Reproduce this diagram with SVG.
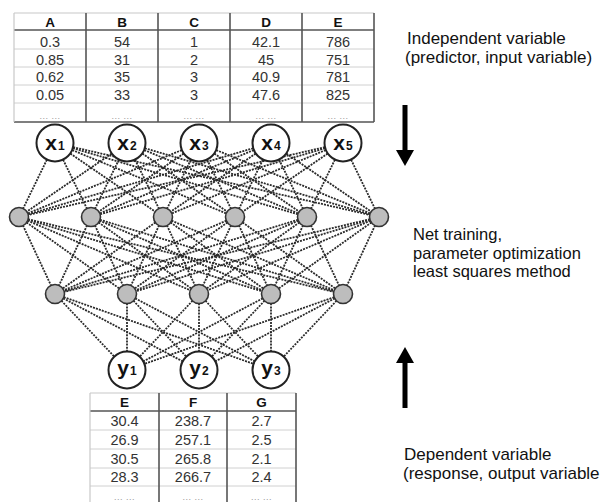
<svg xmlns="http://www.w3.org/2000/svg" width="601" height="502" viewBox="0 0 601 502">
<style>
text{font-family:"Liberation Sans",Arial,sans-serif;fill:#111}
.hd{font-weight:bold;font-size:13.5px;text-anchor:middle}
.v{font-size:14.5px;text-anchor:middle;fill:#333}
.dt{font-size:9px;text-anchor:middle;fill:#999;letter-spacing:0.5px}
.lbl{font-size:17px}
.lbs{font-size:16.5px}
.rl{stroke:#d0d0d0;stroke-width:1}
.dk{stroke:#555;stroke-width:1.6}
.lt{stroke:#c8c8c8;stroke-width:1.2}
.cn line{stroke:#2a2a2a;stroke-width:1.8;stroke-dasharray:2 1.1}
.io{fill:#fff;stroke:#222;stroke-width:2}
.hn{fill:#bdbdbd;stroke:#333;stroke-width:1.6}
.nx{font-weight:bold;font-size:21px;text-anchor:middle}
</style>
<rect width="601" height="502" fill="#fff"/>

<g id="input-table">
<line class="lt" x1="14" y1="13" x2="374" y2="13"/>
<line class="dk" x1="14" y1="30" x2="374" y2="30"/>
<line class="rl" x1="14" y1="49" x2="374" y2="49"/>
<line class="rl" x1="14" y1="67" x2="374" y2="67"/>
<line class="rl" x1="14" y1="85" x2="374" y2="85"/>
<line class="rl" x1="14" y1="103" x2="374" y2="103"/>
<line class="dk" x1="14" y1="122" x2="374" y2="122"/>
<line class="lt" x1="14" y1="13" x2="14" y2="122"/>
<line class="dk" x1="86" y1="13" x2="86" y2="122"/>
<line class="dk" x1="158" y1="13" x2="158" y2="122"/>
<line class="dk" x1="230" y1="13" x2="230" y2="122"/>
<line class="dk" x1="302" y1="13" x2="302" y2="122"/>
<line class="dk" x1="374" y1="13" x2="374" y2="122"/>
<text class="hd" x="50" y="27">A</text><text class="hd" x="122" y="27">B</text><text class="hd" x="194" y="27">C</text><text class="hd" x="266" y="27">D</text><text class="hd" x="338" y="27">E</text>
<text class="v" x="50" y="47">0.3</text><text class="v" x="122" y="47">54</text><text class="v" x="194" y="47">1</text><text class="v" x="266" y="47">42.1</text><text class="v" x="338" y="47">786</text>
<text class="v" x="50" y="64.5">0.85</text><text class="v" x="122" y="64.5">31</text><text class="v" x="194" y="64.5">2</text><text class="v" x="266" y="64.5">45</text><text class="v" x="338" y="64.5">751</text>
<text class="v" x="50" y="82">0.62</text><text class="v" x="122" y="82">35</text><text class="v" x="194" y="82">3</text><text class="v" x="266" y="82">40.9</text><text class="v" x="338" y="82">781</text>
<text class="v" x="50" y="99.5">0.05</text><text class="v" x="122" y="99.5">33</text><text class="v" x="194" y="99.5">3</text><text class="v" x="266" y="99.5">47.6</text><text class="v" x="338" y="99.5">825</text>
<text class="dt" x="50" y="119">... ...</text><text class="dt" x="122" y="119">... ...</text><text class="dt" x="194" y="119">... ...</text><text class="dt" x="266" y="119">... ...</text><text class="dt" x="338" y="119">... ...</text>
</g>

<g id="output-table">
<line class="lt" x1="90" y1="393" x2="296" y2="393"/>
<line class="dk" x1="90" y1="411" x2="296" y2="411"/>
<line class="rl" x1="90" y1="430" x2="296" y2="430"/>
<line class="rl" x1="90" y1="449" x2="296" y2="449"/>
<line class="rl" x1="90" y1="468" x2="296" y2="468"/>
<line class="rl" x1="90" y1="486" x2="296" y2="486"/>
<line class="lt" x1="90" y1="393" x2="90" y2="502"/>
<line class="dk" x1="159" y1="393" x2="159" y2="502"/>
<line class="dk" x1="227" y1="393" x2="227" y2="502"/>
<line class="dk" x1="296" y1="393" x2="296" y2="502"/>
<text class="hd" x="124.5" y="407">E</text><text class="hd" x="193" y="407">F</text><text class="hd" x="261.5" y="407">G</text>
<text class="v" x="124.5" y="426">30.4</text><text class="v" x="193" y="426">238.7</text><text class="v" x="261.5" y="426">2.7</text>
<text class="v" x="124.5" y="445">26.9</text><text class="v" x="193" y="445">257.1</text><text class="v" x="261.5" y="445">2.5</text>
<text class="v" x="124.5" y="464">30.5</text><text class="v" x="193" y="464">265.8</text><text class="v" x="261.5" y="464">2.1</text>
<text class="v" x="124.5" y="482">28.3</text><text class="v" x="193" y="482">266.7</text><text class="v" x="261.5" y="482">2.4</text>
<text class="dt" x="124.5" y="500">... ...</text><text class="dt" x="193" y="500">... ...</text><text class="dt" x="261.5" y="500">... ...</text>
</g>

<g id="connectors" class="cn">
<line x1="55" y1="143" x2="19" y2="217"/><line x1="55" y1="143" x2="91" y2="217"/><line x1="55" y1="143" x2="163" y2="217"/><line x1="55" y1="143" x2="235" y2="217"/><line x1="55" y1="143" x2="307" y2="217"/><line x1="55" y1="143" x2="379" y2="217"/>
<line x1="127" y1="143" x2="19" y2="217"/><line x1="127" y1="143" x2="91" y2="217"/><line x1="127" y1="143" x2="163" y2="217"/><line x1="127" y1="143" x2="235" y2="217"/><line x1="127" y1="143" x2="307" y2="217"/><line x1="127" y1="143" x2="379" y2="217"/>
<line x1="199" y1="143" x2="19" y2="217"/><line x1="199" y1="143" x2="91" y2="217"/><line x1="199" y1="143" x2="163" y2="217"/><line x1="199" y1="143" x2="235" y2="217"/><line x1="199" y1="143" x2="307" y2="217"/><line x1="199" y1="143" x2="379" y2="217"/>
<line x1="271" y1="143" x2="19" y2="217"/><line x1="271" y1="143" x2="91" y2="217"/><line x1="271" y1="143" x2="163" y2="217"/><line x1="271" y1="143" x2="235" y2="217"/><line x1="271" y1="143" x2="307" y2="217"/><line x1="271" y1="143" x2="379" y2="217"/>
<line x1="343" y1="143" x2="19" y2="217"/><line x1="343" y1="143" x2="91" y2="217"/><line x1="343" y1="143" x2="163" y2="217"/><line x1="343" y1="143" x2="235" y2="217"/><line x1="343" y1="143" x2="307" y2="217"/><line x1="343" y1="143" x2="379" y2="217"/>
<line x1="19" y1="217" x2="55" y2="294"/><line x1="19" y1="217" x2="127" y2="294"/><line x1="19" y1="217" x2="199" y2="294"/><line x1="19" y1="217" x2="271" y2="294"/><line x1="19" y1="217" x2="343" y2="294"/>
<line x1="91" y1="217" x2="55" y2="294"/><line x1="91" y1="217" x2="127" y2="294"/><line x1="91" y1="217" x2="199" y2="294"/><line x1="91" y1="217" x2="271" y2="294"/><line x1="91" y1="217" x2="343" y2="294"/>
<line x1="163" y1="217" x2="55" y2="294"/><line x1="163" y1="217" x2="127" y2="294"/><line x1="163" y1="217" x2="199" y2="294"/><line x1="163" y1="217" x2="271" y2="294"/><line x1="163" y1="217" x2="343" y2="294"/>
<line x1="235" y1="217" x2="55" y2="294"/><line x1="235" y1="217" x2="127" y2="294"/><line x1="235" y1="217" x2="199" y2="294"/><line x1="235" y1="217" x2="271" y2="294"/><line x1="235" y1="217" x2="343" y2="294"/>
<line x1="307" y1="217" x2="55" y2="294"/><line x1="307" y1="217" x2="127" y2="294"/><line x1="307" y1="217" x2="199" y2="294"/><line x1="307" y1="217" x2="271" y2="294"/><line x1="307" y1="217" x2="343" y2="294"/>
<line x1="379" y1="217" x2="55" y2="294"/><line x1="379" y1="217" x2="127" y2="294"/><line x1="379" y1="217" x2="199" y2="294"/><line x1="379" y1="217" x2="271" y2="294"/><line x1="379" y1="217" x2="343" y2="294"/>
<line x1="55" y1="294" x2="127" y2="370"/><line x1="55" y1="294" x2="199" y2="370"/><line x1="55" y1="294" x2="271" y2="370"/>
<line x1="127" y1="294" x2="127" y2="370"/><line x1="127" y1="294" x2="199" y2="370"/><line x1="127" y1="294" x2="271" y2="370"/>
<line x1="199" y1="294" x2="127" y2="370"/><line x1="199" y1="294" x2="199" y2="370"/><line x1="199" y1="294" x2="271" y2="370"/>
<line x1="271" y1="294" x2="127" y2="370"/><line x1="271" y1="294" x2="199" y2="370"/><line x1="271" y1="294" x2="271" y2="370"/>
<line x1="343" y1="294" x2="127" y2="370"/><line x1="343" y1="294" x2="199" y2="370"/><line x1="343" y1="294" x2="271" y2="370"/>
</g>

<g id="x1"><circle class="io" cx="55" cy="143" r="18.5"/><text class="nx" x="55" y="150">x<tspan font-size="12" dx="1">1</tspan></text></g>
<g id="x2"><circle class="io" cx="127" cy="143" r="18.5"/><text class="nx" x="127" y="150">x<tspan font-size="12" dx="1">2</tspan></text></g>
<g id="x3"><circle class="io" cx="199" cy="143" r="18.5"/><text class="nx" x="199" y="150">x<tspan font-size="12" dx="1">3</tspan></text></g>
<g id="x4"><circle class="io" cx="271" cy="143" r="18.5"/><text class="nx" x="271" y="150">x<tspan font-size="12" dx="1">4</tspan></text></g>
<g id="x5"><circle class="io" cx="343" cy="143" r="18.5"/><text class="nx" x="343" y="150">x<tspan font-size="12" dx="1">5</tspan></text></g>

<g id="h1-1"><circle class="hn" cx="19" cy="217" r="9.5"/></g>
<g id="h1-2"><circle class="hn" cx="91" cy="217" r="9.5"/></g>
<g id="h1-3"><circle class="hn" cx="163" cy="217" r="9.5"/></g>
<g id="h1-4"><circle class="hn" cx="235" cy="217" r="9.5"/></g>
<g id="h1-5"><circle class="hn" cx="307" cy="217" r="9.5"/></g>
<g id="h1-6"><circle class="hn" cx="379" cy="217" r="9.5"/></g>

<g id="h2-1"><circle class="hn" cx="55" cy="294" r="9.5"/></g>
<g id="h2-2"><circle class="hn" cx="127" cy="294" r="9.5"/></g>
<g id="h2-3"><circle class="hn" cx="199" cy="294" r="9.5"/></g>
<g id="h2-4"><circle class="hn" cx="271" cy="294" r="9.5"/></g>
<g id="h2-5"><circle class="hn" cx="343" cy="294" r="9.5"/></g>

<g id="y1"><circle class="io" cx="127" cy="370" r="18.5"/><text class="nx" x="127" y="375" font-size="23">y<tspan font-size="12" dx="1">1</tspan></text></g>
<g id="y2"><circle class="io" cx="199" cy="370" r="18.5"/><text class="nx" x="199" y="375" font-size="23">y<tspan font-size="12" dx="1">2</tspan></text></g>
<g id="y3"><circle class="io" cx="271" cy="370" r="18.5"/><text class="nx" x="271" y="375" font-size="23">y<tspan font-size="12" dx="1">3</tspan></text></g>

<g id="arrow-down"><rect x="402.5" y="105" width="5" height="46" fill="#000"/><polygon points="396,150 414,150 405,166" fill="#000"/></g>
<g id="arrow-up"><rect x="402.5" y="362" width="5" height="46" fill="#000"/><polygon points="396,363 414,363 405,347" fill="#000"/></g>

<g id="label-independent"><text class="lbl" x="407" y="44">Independent variable</text><text class="lbl" x="405" y="63">(predictor, input variable)</text></g>
<g id="label-training"><text class="lbs" x="413" y="240">Net training,</text><text class="lbs" x="413" y="258.5">parameter optimization</text><text class="lbs" x="413" y="277">least squares method</text></g>
<g id="label-dependent"><text class="lbl" x="404" y="460">Dependent variable</text><text class="lbl" x="403" y="479">(response, output variable</text></g>
</svg>
